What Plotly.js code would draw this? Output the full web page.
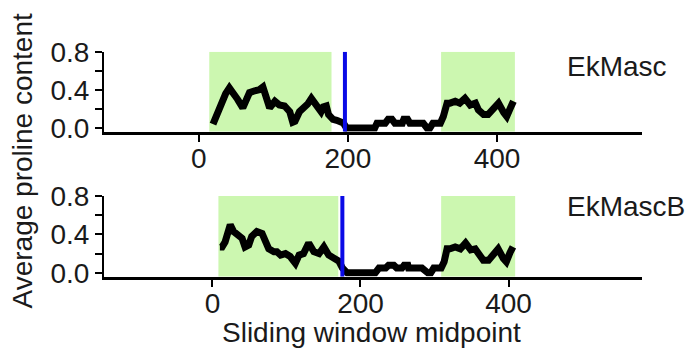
<!DOCTYPE html>
<html>
<head>
<meta charset="utf-8">
<script src="https://cdn.plot.ly/plotly-3.0.1.min.js"></script>
<style>html,body{margin:0;padding:0;background:#fff;}#chart{width:690px;height:354px;}</style>
</head>
<body>
<div id="chart"></div>
<script>
// Panel labels
const panelNames = ["EkMasc", "EkMascB"];

// EkMasc series
const topX = [19, 24, 30, 36, 41, 46, 52, 59, 64, 68, 75, 81, 86, 90, 95, 102, 108, 115, 122, 126, 129, 135, 142, 146, 151, 158, 164, 167, 171, 174, 180, 185, 189, 194, 198, 205, 236, 239, 250, 254, 259, 263, 273, 275, 280, 283, 301, 306, 310, 314, 324, 328, 333, 337, 344, 350, 357, 364, 371, 375, 382, 388, 395, 402, 409, 413, 418, 422];
const topY = [0.04, 0.15, 0.28, 0.36, 0.42, 0.35, 0.30, 0.21, 0.30, 0.37, 0.39, 0.40, 0.43, 0.33, 0.21, 0.28, 0.24, 0.23, 0.17, 0.06, 0.07, 0.17, 0.21, 0.25, 0.31, 0.23, 0.17, 0.22, 0.23, 0.14, 0.09, 0.08, 0.07, 0.05, 0.0, 0.0, 0.0, 0.05, 0.05, 0.09, 0.09, 0.05, 0.05, 0.09, 0.09, 0.05, 0.05, 0.0, 0.0, 0.05, 0.05, 0.12, 0.26, 0.26, 0.28, 0.26, 0.31, 0.24, 0.26, 0.19, 0.14, 0.14, 0.19, 0.26, 0.16, 0.12, 0.21, 0.28];

// EkMascB series
const botX = [10, 13, 17, 21, 24, 28.5, 35, 40, 44, 49, 53, 60, 67, 71.5, 76, 83, 87, 92, 98.6, 105, 110, 112, 117, 123, 130, 137, 144, 150.5, 157, 164, 171, 175.5, 180, 182, 220, 225, 234, 238, 245, 249, 256, 259, 264, 265, 283, 291, 295, 299, 309, 313, 317, 321, 328, 335, 342, 349, 355, 360, 366, 373, 380, 386, 393, 397, 402, 406];
const botY = [0.27, 0.27, 0.32, 0.42, 0.50, 0.43, 0.39, 0.36, 0.27, 0.29, 0.38, 0.43, 0.41, 0.31, 0.25, 0.22, 0.22, 0.185, 0.20, 0.17, 0.12, 0.10, 0.185, 0.20, 0.31, 0.22, 0.20, 0.27, 0.185, 0.15, 0.12, 0.05, 0.02, 0.0, 0.0, 0.05, 0.05, 0.08, 0.08, 0.05, 0.05, 0.08, 0.08, 0.05, 0.05, 0.0, 0.0, 0.05, 0.05, 0.115, 0.25, 0.25, 0.27, 0.25, 0.31, 0.24, 0.25, 0.185, 0.13, 0.13, 0.185, 0.25, 0.15, 0.115, 0.21, 0.27];

// Highlighted regions [start, end] and marker position per panel
const topRegions = [[14, 178], [325, 424]];
const botRegions = [[8, 170], [309, 409]];
const topMarker = 196;
const botMarker = 175.5;

// Tick values / labels
const xTickVals = [0, 200, 400];
const xTickText = ["0", "200", "400"];
const yTickVals = [0, 0.2, 0.4, 0.6, 0.8];
const yTickText = ["0.0", "", "0.4", "", "0.8"];

const FONT = "Liberation Sans, Arial, sans-serif";
const FS = 28;
const TXT = "#1a1a1a";
const W = 690, H = 354;

const lineStyle = {color: "#000", width: 7};
const traces = [
  {x: topX, y: topY, xaxis: "x", yaxis: "y", mode: "lines", line: lineStyle, hoverinfo: "skip"},
  {x: botX, y: botY, xaxis: "x2", yaxis: "y2", mode: "lines", line: lineStyle, hoverinfo: "skip"}
];

const yMin = -0.04, yMax = 0.8;
const shapes = [];
function addPanel(regions, marker, xr, yr) {
  regions.forEach(r => shapes.push({type: "rect", xref: xr, yref: yr, x0: r[0], x1: r[1], y0: yMin, y1: yMax,
    fillcolor: "rgb(204,247,176)", line: {width: 0}, layer: "below"}));
  shapes.push({type: "line", xref: xr, yref: yr, x0: marker, x1: marker, y0: yMin, y1: yMax,
    line: {color: "#0a0ae6", width: 4}, layer: "above"});
}
addPanel(topRegions, topMarker, "x", "y");
addPanel(botRegions, botMarker, "x2", "y2");

const xBase = {
  tickvals: xTickVals, ticktext: xTickText, showgrid: false, zeroline: false,
  showline: true, linecolor: "#000", linewidth: 3, ticks: "outside", ticklen: 7, tickwidth: 2, tickcolor: "#000",
  ticklabelstandoff: -7,
  tickfont: {family: FONT, size: FS, color: TXT}, domain: [104 / W, 641.7 / W], fixedrange: true
};
const yBase = {
  tickvals: yTickVals, ticktext: yTickText, range: [yMin, yMax], showgrid: false, zeroline: false,
  showline: true, linecolor: "#000", linewidth: 2, ticks: "outside", ticklen: 7, tickwidth: 2, tickcolor: "#000",
  tickfont: {family: FONT, size: FS, color: TXT}, fixedrange: true
};

const layout = {
  width: W, height: H, margin: {l: 0, r: 0, t: 0, b: 0},
  paper_bgcolor: "#fff", plot_bgcolor: "rgba(0,0,0,0)", showlegend: false,
  xaxis: Object.assign({}, xBase, {range: [-127.2, 594.1], anchor: "y"}),
  yaxis: Object.assign({}, yBase, {domain: [(H - 131.7) / H, (H - 51.7) / H], anchor: "x"}),
  xaxis2: Object.assign({}, xBase, {range: [-146.6, 580], anchor: "y2"}),
  yaxis2: Object.assign({}, yBase, {domain: [(H - 276.7) / H, (H - 196) / H], anchor: "x2"}),
  shapes: shapes,
  annotations: [
    {text: panelNames[0], xref: "paper", yref: "paper", x: 565 / W, y: (H - 66.7) / H, xanchor: "left", yanchor: "middle",
     showarrow: false, font: {family: FONT, size: FS, color: TXT}},
    {text: panelNames[1], xref: "paper", yref: "paper", x: 565 / W, y: (H - 206.7) / H, xanchor: "left", yanchor: "middle",
     showarrow: false, font: {family: FONT, size: FS, color: TXT}},
    {text: "Average proline content", xref: "paper", yref: "paper", x: 22 / W, y: (H - 161.5) / H, xanchor: "center", yanchor: "middle",
     textangle: -90, showarrow: false, font: {family: FONT, size: FS, color: TXT}},
    {text: "Sliding window midpoint", xref: "paper", yref: "paper", x: 371.5 / W, y: (H - 332) / H, xanchor: "center", yanchor: "middle",
     showarrow: false, font: {family: FONT, size: FS, color: TXT}}
  ]
};

Plotly.newPlot("chart", traces, layout, {staticPlot: true, displayModeBar: false});
</script>
</body>
</html>
